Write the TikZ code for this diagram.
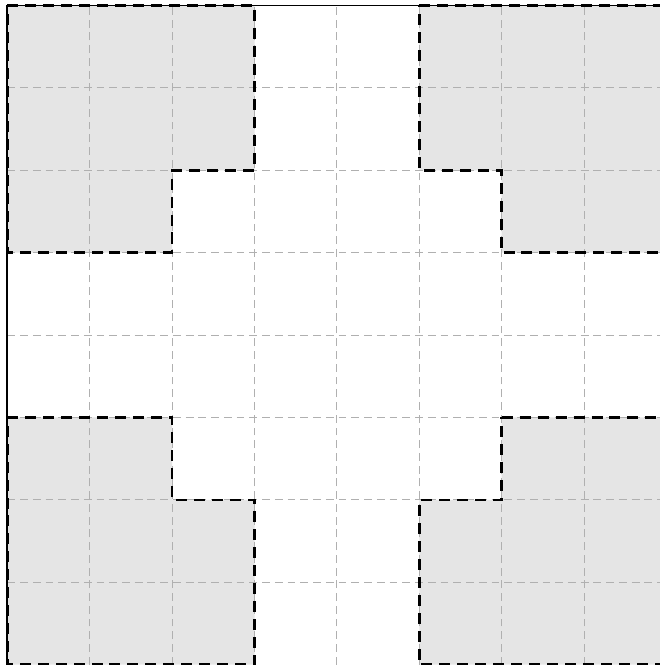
\documentclass[tikz,border=0pt]{standalone}
\usepackage{xcolor}
\usepackage{tikz}
\definecolor{zgray}{HTML}{E5E5E5}
\definecolor{zgrayd}{HTML}{B0B0B0}
\tikzset{
  % light dashed cell lines
  cellgrid/.style = {draw=zgrayd, line width=0.4pt, dash pattern=on 2.7pt off 1.7pt},
  % shaded corner zones with a dark dashed rim
  zone/.style     = {draw=black, line width=0.9pt, dash pattern=on 3.8pt off 2.4pt},
  frame/.style    = {draw=black, line width=0.6pt},
}
\begin{document}
\begin{tikzpicture}[x=1cm,y=1cm]
\useasboundingbox (-0.0886,-0.0036) rectangle (7.921,8.0667);
\clip (-0.0886,-0.0036) rectangle (7.921,8.0667);
% corner zones
\fill[zgray] (0,8) -- (3,8) -- (3,6) -- (2,6) -- (2,5) -- (0,5) -- cycle;
\fill[zgray] (5,8) -- (8,8) -- (8,5) -- (6,5) -- (6,6) -- (5,6) -- cycle;
\fill[zgray] (0,3) -- (2,3) -- (2,2) -- (3,2) -- (3,0) -- (0,0) -- cycle;
\fill[zgray] (6,3) -- (8,3) -- (8,0) -- (5,0) -- (5,2) -- (6,2) -- cycle;
% grid
\foreach \i in {1,...,7}
  {\draw[cellgrid] (\i,0) -- (\i,8);
   \draw[cellgrid] (0,\i) -- (8,\i);}
% rims
\draw[zone] (0,8) -- (3,8) -- (3,6) -- (2,6) -- (2,5) -- (0,5) -- cycle;
\draw[zone] (5,8) -- (8,8) -- (8,5) -- (6,5) -- (6,6) -- (5,6) -- cycle;
\draw[zone] (0,3) -- (2,3) -- (2,2) -- (3,2) -- (3,0) -- (0,0) -- cycle;
\draw[zone] (6,3) -- (8,3) -- (8,0) -- (5,0) -- (5,2) -- (6,2) -- cycle;
% outer frame (bottom edge falls off the page)
\draw[frame] (0,0) -- (0,8) -- (8,8) -- (8,0);
\end{tikzpicture}
\end{document}
